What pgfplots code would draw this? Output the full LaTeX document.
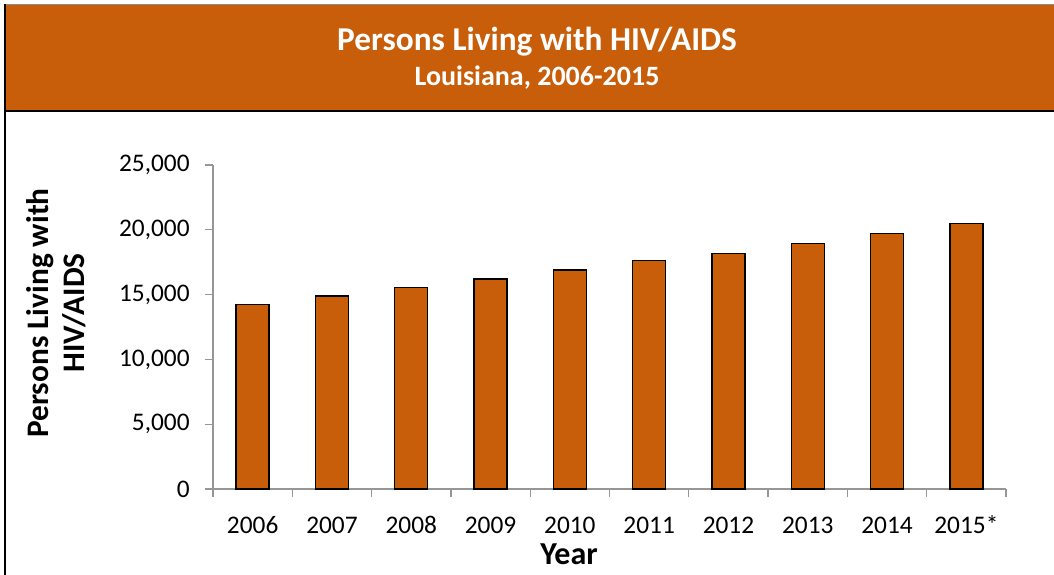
\documentclass[border=0pt]{standalone}
\usepackage{fontspec}
\setmainfont{Carlito}
\usepackage{pgfplots}
\pgfplotsset{compat=1.18}
\definecolor{hivorange}{RGB}{200,94,9}
\definecolor{axgray}{RGB}{150,150,150}
\begin{document}
\begin{tikzpicture}[x=0.75pt,y=-0.75pt]
\useasboundingbox (0,0) rectangle (1054,575);
\fill[white] (0,0) rectangle (1054,575);
\fill[hivorange] (5,5) rectangle (1054,110);
\draw[black!45, line width=0.75pt] (5,4) -- (1054,4);
\draw[black, line width=1.5pt] (5,110.5) -- (1054,110.5);
\draw[black, line width=1.5pt] (5,4) -- (5,575);
\node[white, font=\bfseries\fontsize{25}{30}\selectfont] at (537,42) {Persons Living with HIV/AIDS};
\node[white, font=\bfseries\fontsize{21}{25}\selectfont] at (537,78) {Louisiana, 2006-2015};
\begin{axis}[
  at={(159.75pt,-366.75pt)}, anchor=south west,
  scale only axis, width=594.75pt, height=243pt,
  xmin=-0.5, xmax=9.5, ymin=0, ymax=25000,
  axis x line*=bottom, axis y line*=left,
  axis line style={axgray, line width=1pt},
  xtick={0,...,9},
  xticklabels={2006,2007,2008,2009,2010,2011,2012,2013,2014,2015*},
  major x tick style={draw=none},
  minor xtick={-0.5,0.5,...,9.5},
  minor x tick style={draw=axgray, line width=1pt},
  minor tick length=6pt,
  ytick={0,5000,...,25000},
  y tick style={draw=axgray, line width=1pt},
  major tick length=6pt,
  tick align=outside,
  scaled y ticks=false,
  /pgf/number format/1000 sep={,},
  /pgf/number format/assume math mode=true,
  xticklabel style={anchor=base, yshift=-27pt},
  yticklabel style={xshift=-8pt},
  ticklabel style={font=\fontsize{19}{22}\selectfont},
  clip=false,
]
\addplot[ybar, bar width=24.75pt, fill=hivorange, draw=black, line width=1pt]
 coordinates {(0,14250) (1,14890) (2,15560) (3,16200) (4,16900) (5,17630) (6,18185) (7,18930) (8,19730) (9,20470)};
\end{axis}
\node[font=\bfseries\fontsize{24}{28}\selectfont] at (569,554) {Year};
\node[rotate=90, align=center, font=\bfseries\fontsize{23.5}{27}\selectfont] at (56,313) {Persons Living with\\HIV/AIDS};
\end{tikzpicture}
\end{document}
